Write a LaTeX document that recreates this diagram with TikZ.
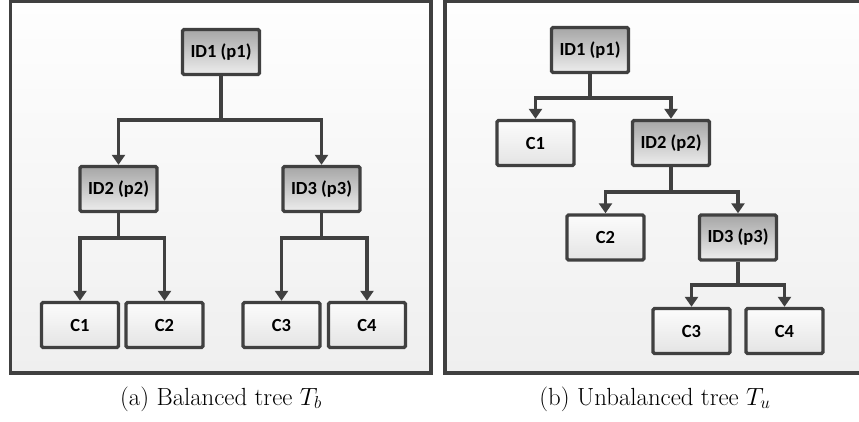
\documentclass[tikz,border=0pt]{standalone}
\usepackage{fontspec}
\newfontfamily\boxfont{Carlito}
\usetikzlibrary{arrows.meta}
\definecolor{edge}{HTML}{404040}
\definecolor{idtop}{HTML}{A6A6A6}
\definecolor{idbot}{HTML}{EDEDED}
\definecolor{ctop}{HTML}{FCFCFC}
\definecolor{cbot}{HTML}{E4E4E4}
\definecolor{paneltop}{HTML}{FEFEFE}
\definecolor{panelbot}{HTML}{EFEFEF}
\tikzset{
  panel/.style={draw=edge, line width=3.2pt, top color=paneltop, bottom color=panelbot},
  basebox/.style={draw=edge, line width=3.4pt, rounded corners=1.5pt, minimum width=77pt, minimum height=45pt, inner sep=0pt, font=\boxfont\bfseries\fontsize{18.5}{21}\selectfont, text=black},
  idbox/.style={basebox, top color=idtop, bottom color=idbot},
  cbox/.style={basebox, top color=ctop, bottom color=cbot},
  link/.style={draw=edge, line width=3.4pt},
  arr/.style={link, -{Triangle[width=13pt,length=10pt]}},
  captext/.style={font=\fontsize{24.8}{30}\selectfont, inner sep=0pt}
}
\begin{document}
\begin{tikzpicture}[x=1pt,y=-1pt]
\useasboundingbox (0,0) rectangle (859,422);
\begin{scope}
\clip (0,0) rectangle (859,422);
\path[panel] (10.5,1.5) rectangle (431,373);
\path[panel] (445,1.5) rectangle (870,373);
\end{scope}

% left tree
\node[idbox] (a1) at (221,52) {ID1 (p1)};
\node[idbox] (a2) at (118.5,189) {ID2 (p2)};
\node[idbox] (a3) at (321.5,189) {ID3 (p3)};
\node[cbox] (ac1) at (80,325) {C1};
\node[cbox] (ac2) at (164.5,325) {C2};
\node[cbox] (ac3) at (281.5,325) {C3};
\node[cbox] (ac4) at (367,325) {C4};
\coordinate (aj1) at (221,120);
\coordinate (aj2) at (118.5,238);
\coordinate (aj3) at (321.5,238);
\draw[link] (a1.south) -- (aj1);
\draw[arr] (aj1) -| (a2.north);
\draw[arr] (aj1) -| (a3.north);
\draw[link] (a2.south) -- (aj2);
\draw[arr] (aj2) -| (ac1.north);
\draw[arr] (aj2) -| (ac2.north);
\draw[link] (a3.south) -- (aj3);
\draw[arr] (aj3) -| (ac3.north);
\draw[arr] (aj3) -| (ac4.north);

% right tree
\node[idbox] (b1) at (590,50) {ID1 (p1)};
\node[cbox] (bc1) at (535.5,143) {C1};
\node[idbox] (b2) at (671,143) {ID2 (p2)};
\node[cbox] (bc2) at (605.5,237.5) {C2};
\node[idbox] (b3) at (738,237.5) {ID3 (p3)};
\node[cbox] (bc3) at (691.5,331) {C3};
\node[cbox] (bc4) at (784.5,331) {C4};
\coordinate (bj1) at (590,98);
\coordinate (bj2) at (671,192);
\coordinate (bj3) at (738,285);
\draw[link] (b1.south) -- (bj1);
\draw[arr] (bj1) -| (bc1.north);
\draw[arr] (bj1) -| (b2.north);
\draw[link] (b2.south) -- (bj2);
\draw[arr] (bj2) -| (bc2.north);
\draw[arr] (bj2) -| (b3.north);
\draw[link] (b3.south) -- (bj3);
\draw[arr] (bj3) -| (bc3.north);
\draw[arr] (bj3) -| (bc4.north);

% captions
\node[captext] (capa) at (221,399) {(a) Balanced tree $T_b$};
\node[captext] (capb) at (655,399) {(b) Unbalanced tree $T_u$};
\end{tikzpicture}
\end{document}
